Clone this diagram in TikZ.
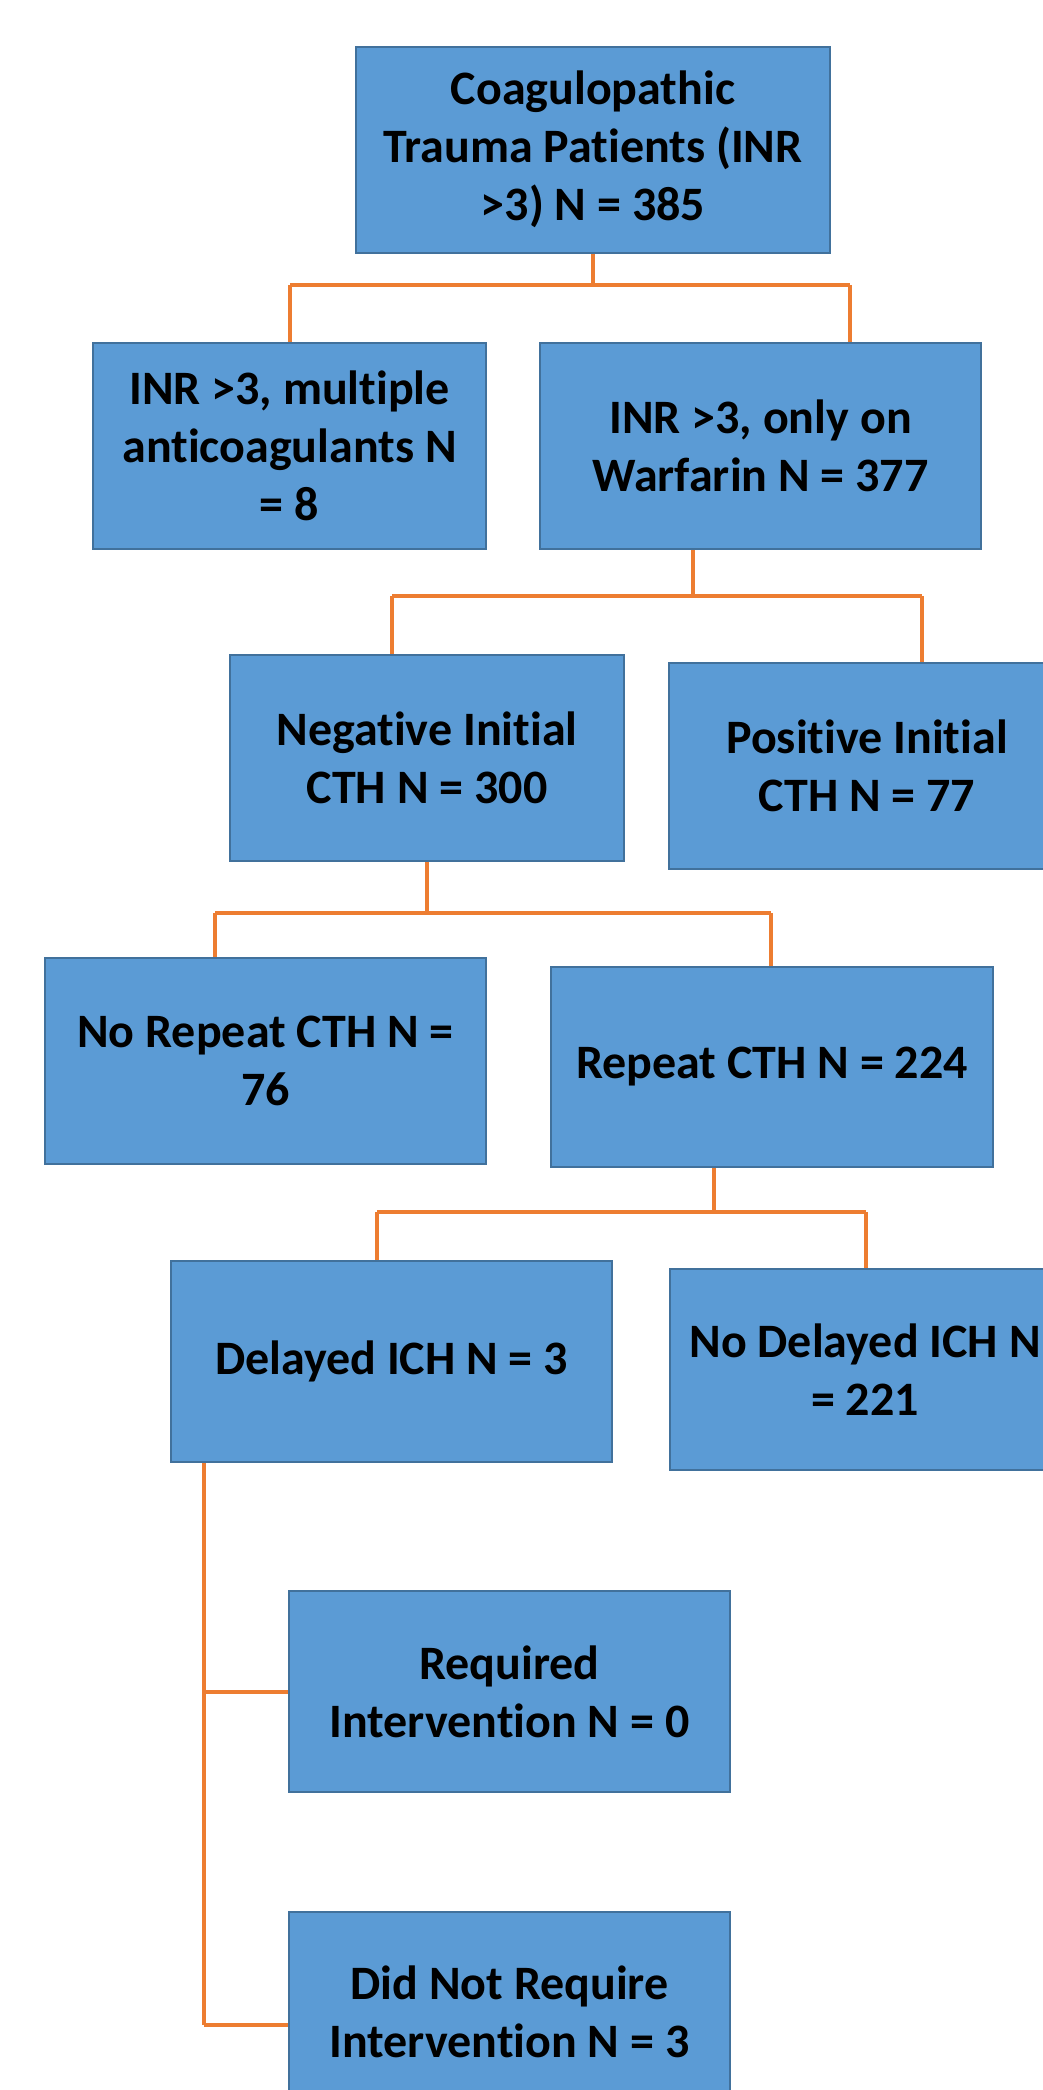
\documentclass[tikz,border=0pt]{standalone}
\usepackage{fontspec}
\setmainfont{Carlito}[Ligatures=NoCommon,Contextuals=NoAlternate]
\usepackage{tikz}
\usetikzlibrary{positioning,calc}
\usepackage{xcolor}
\definecolor{boxblue}{RGB}{91,155,213}
\definecolor{boxedge}{RGB}{65,113,156}
\definecolor{linkorange}{RGB}{237,125,49}

\tikzset{
  flowbox/.style={rectangle,draw=boxedge,fill=boxblue,line width=1pt,
    text=black,align=center,inner sep=0pt,
    font=\bfseries\fontsize{24}{29}\selectfont,
    minimum height=103pt},
  link/.style={draw=linkorange,line width=1.7pt}
}

\begin{document}
\begin{tikzpicture}[x=0.5pt,y=-0.5pt]
\useasboundingbox (0,0) rectangle (1043,2090);
\clip (0,0) rectangle (1043,2090);
\fill[white] (0,0) rectangle (1043,2090);

% boxes
\node[flowbox,minimum width=237pt] (coag) at (593,149.5)
  {Coagulopathic\\Trauma Patients (INR\\>3) N = 385};
\node[flowbox,minimum width=196.5pt] (multi) at (289.5,445.5)
  {INR >3, multiple\\anticoagulants N\\= 8};
\node[flowbox,minimum width=220.5pt] (warf) at (760.5,445.5)
  {INR >3, only on\\Warfarin N = 377};
\node[flowbox,minimum width=197pt] (neg) at (427,757.5)
  {Negative Initial\\CTH N = 300};
\node[flowbox,minimum width=198pt] (pos) at (867,766)
  {Positive Initial\\CTH N = 77};
\node[flowbox,minimum width=220.5pt] (norep) at (265.5,1061)
  {No Repeat CTH N =\\76};
\node[flowbox,minimum width=221pt,minimum height=100pt] (rep) at (772,1067)
  {Repeat CTH N = 224};
\node[flowbox,minimum width=220.5pt,minimum height=100.5pt] (del) at (391.5,1361.5)
  {Delayed ICH N = 3};
\node[flowbox,minimum width=195pt,minimum height=100.5pt] (nodel) at (865,1369.5)
  {No Delayed ICH N\\= 221};
\node[flowbox,minimum width=220.5pt,minimum height=100.5pt] (req) at (509.5,1691.5)
  {Required\\Intervention N = 0};
\node[flowbox,minimum width=220.5pt,minimum height=100.5pt] (notreq) at (509.5,2012)
  {Did Not Require\\Intervention N = 3};

% bus joints
\coordinate (b1l) at (290,285);  \coordinate (b1r) at (850,285);
\coordinate (b2s) at (693,596);  \coordinate (b2l) at (392,596);  \coordinate (b2r) at (922,596);
\coordinate (b3l) at (215,913);  \coordinate (b3r) at (771,913);
\coordinate (b4s) at (714,1212); \coordinate (b4l) at (377,1212); \coordinate (b4r) at (866,1212);
\coordinate (b5s) at (204,1462); \coordinate (b5a) at (204,1692); \coordinate (b5b) at (204,2025);

% connectors
\draw[link] (coag.south) -- (coag.south |- b1l);
\draw[link] (b1l) -- (b1r);
\draw[link] (b1l) -- (b1l |- multi.north);
\draw[link] (b1r) -- (b1r |- warf.north);

\draw[link] (b2s |- warf.south) -- (b2s);
\draw[link] (b2l) -- (b2r);
\draw[link] (b2l) -- (b2l |- neg.north);
\draw[link] (b2r) -- (b2r |- pos.north);

\draw[link] (neg.south) -- (neg.south |- b3l);
\draw[link] (b3l) -- (b3r);
\draw[link] (b3l) -- (b3l |- norep.north);
\draw[link] (b3r) -- (b3r |- rep.north);

\draw[link] (b4s |- rep.south) -- (b4s);
\draw[link] (b4l) -- (b4r);
\draw[link] (b4l) -- (b4l |- del.north);
\draw[link] (b4r) -- (b4r |- nodel.north);

\draw[link] (b5s |- del.south) -- (b5b);
\draw[link] (b5a) -- (b5a -| req.west);
\draw[link] (b5b) -- (b5b -| notreq.west);
\end{tikzpicture}
\end{document}
